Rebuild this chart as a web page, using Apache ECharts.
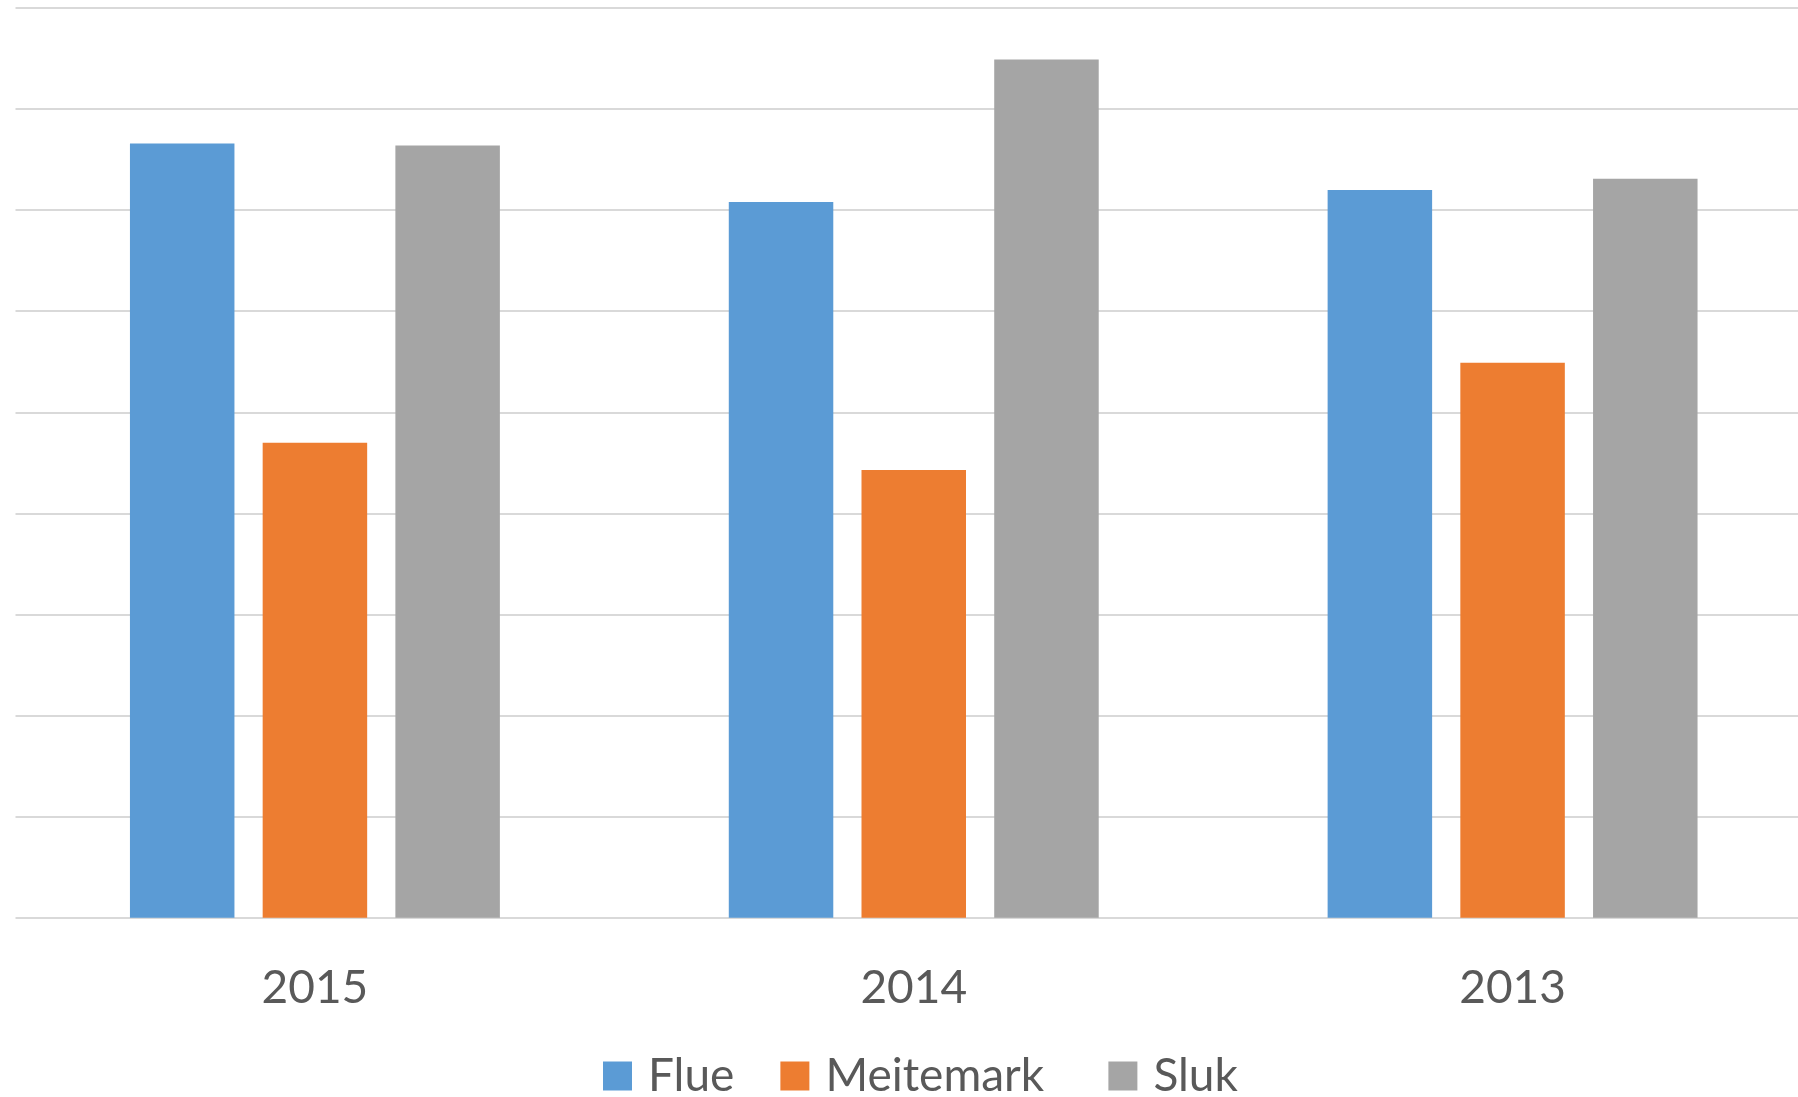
<!DOCTYPE html>
<html>
<head>
<meta charset="utf-8">
<script src="https://cdn.jsdelivr.net/npm/echarts@6/dist/echarts.min.js"></script>
<style>
  html, body { margin: 0; padding: 0; background: #ffffff; overflow: hidden; width: 1798px; height: 1097px; }
  #chart { width: 1812px; height: 1097px; }
</style>
</head>
<body>
<div id="chart"></div>
<script>
const categories = ['2015', '2014', '2013'];
const seriesNames = ['Flue', 'Meitemark', 'Sluk'];
const flueValues = [76.6, 70.8, 72.0];
const meitemarkValues = [47.0, 44.3, 54.9];
const slukValues = [76.4, 84.9, 73.1];
const seriesColors = ['#5B9BD5', '#ED7D31', '#A5A5A5'];

const FONT = 'Lato';
const TEXT_COLOR = '#595959';
const chart = echarts.init(document.getElementById('chart'), null, { renderer: 'canvas' });

const dataSets = [flueValues, meitemarkValues, slukValues];
const series = seriesNames.map((name, i) => ({
  name: name,
  type: 'bar',
  data: dataSets[i],
  barWidth: 104.5,
  barGap: '27%',
  itemStyle: { color: seriesColors[i] },
  emphasis: { disabled: true }
}));

const legendKeys = ['a', 'b', 'c'];
const legendWidths = [86, 237, 88];
const rich = {};
legendKeys.forEach((k, i) => {
  rich[k] = {
    width: legendWidths[i],
    fontFamily: FONT,
    fontSize: 46,
    lineHeight: 46,
    color: TEXT_COLOR
  };
});

chart.setOption({
  animation: false,
  backgroundColor: '#ffffff',
  grid: { left: 15.5, right: 0, top: 8, bottom: 179.3, containLabel: false },
  legend: {
    data: seriesNames,
    left: 603,
    top: 1053,
    padding: 0,
    icon: 'rect',
    itemWidth: 29,
    itemHeight: 29,
    itemGap: 46,
    formatter: function (name) {
      const i = seriesNames.indexOf(name);
      return '{' + legendKeys[i] + '|' + name + '}';
    },
    textStyle: {
      fontFamily: FONT,
      fontSize: 46,
      color: TEXT_COLOR,
      lineHeight: 46,
      padding: [0, 0, 0, 11],
      rich: rich
    }
  },
  xAxis: {
    type: 'category',
    data: categories,
    axisLine: { show: false },
    axisTick: { show: false },
    axisLabel: {
      fontFamily: FONT,
      fontSize: 46,
      lineHeight: 46,
      color: TEXT_COLOR,
      margin: 47
    }
  },
  yAxis: {
    type: 'value',
    min: 0,
    max: 90,
    interval: 10,
    axisLine: { show: false },
    axisTick: { show: false },
    axisLabel: { show: false },
    splitLine: { show: true, lineStyle: { color: '#d9d9d9', width: 2 } }
  },
  series: series
});
</script>
</body>
</html>
